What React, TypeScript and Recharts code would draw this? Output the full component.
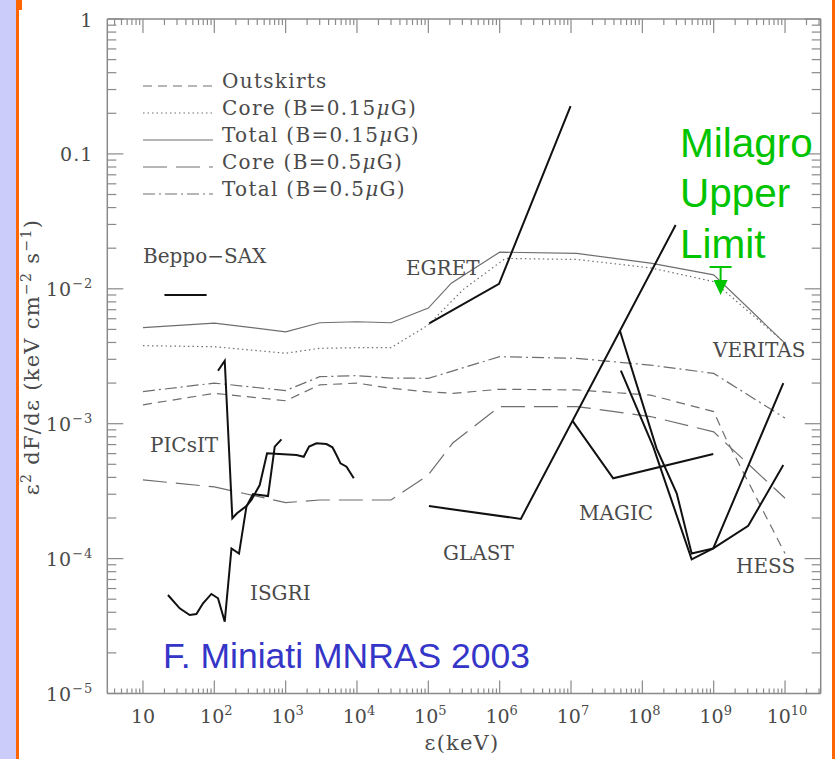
import React from "react";
import { ComposedChart, Line, Scatter, XAxis, YAxis } from "recharts";

type Pt = { x: number; y: number };

// model curves
const outskirts: Pt[] = [
	{ x: 10, y: 1.38e-3 }, { x: 100, y: 1.68e-3 }, { x: 1e3, y: 1.48e-3 },
	{ x: 3e3, y: 1.94e-3 }, { x: 1e4, y: 2.0e-3 }, { x: 3e4, y: 1.83e-3 },
	{ x: 1e5, y: 1.72e-3 }, { x: 2.2e5, y: 1.68e-3 }, { x: 1e6, y: 1.8e-3 },
	{ x: 1.2e7, y: 1.78e-3 }, { x: 1.3e8, y: 1.63e-3 }, { x: 1e9, y: 1.23e-3 },
	{ x: 1.46e9, y: 7.9e-4 }, { x: 1e10, y: 1.09e-4 },
];
const coreLowB: Pt[] = [
	{ x: 10, y: 3.79e-3 }, { x: 100, y: 3.72e-3 }, { x: 1e3, y: 3.33e-3 },
	{ x: 3e3, y: 3.62e-3 }, { x: 1e4, y: 3.66e-3 }, { x: 3e4, y: 3.66e-3 },
	{ x: 1e5, y: 5.39e-3 }, { x: 3.1e5, y: 9.9e-3 }, { x: 1.2e6, y: 1.68e-2 },
	{ x: 1.2e7, y: 1.65e-2 }, { x: 1.3e8, y: 1.43e-2 }, { x: 1e9, y: 1.13e-2 },
	{ x: 1e10, y: 3.97e-3 },
];
const totalLowB: Pt[] = [
	{ x: 10, y: 5.15e-3 }, { x: 100, y: 5.57e-3 }, { x: 1e3, y: 4.8e-3 },
	{ x: 3e3, y: 5.6e-3 }, { x: 1e4, y: 5.7e-3 }, { x: 3e4, y: 5.6e-3 },
	{ x: 1e5, y: 7.2e-3 }, { x: 2.1e5, y: 1.1e-2 }, { x: 1e6, y: 1.87e-2 },
	{ x: 1.2e7, y: 1.83e-2 }, { x: 1.3e8, y: 1.55e-2 }, { x: 1e9, y: 1.27e-2 },
	{ x: 1e10, y: 3.94e-3 },
];
const coreHighB: Pt[] = [
	{ x: 10, y: 3.83e-4 }, { x: 100, y: 3.4e-4 }, { x: 1e3, y: 2.6e-4 },
	{ x: 3e3, y: 2.72e-4 }, { x: 1e4, y: 2.72e-4 }, { x: 3e4, y: 2.72e-4 },
	{ x: 1e5, y: 4.17e-4 }, { x: 2.2e5, y: 7.19e-4 }, { x: 1e6, y: 1.34e-3 },
	{ x: 1.2e7, y: 1.34e-3 }, { x: 1.3e8, y: 1.13e-3 }, { x: 1e9, y: 8.7e-4 },
	{ x: 1e10, y: 2.8e-4 },
];
const totalHighB: Pt[] = [
	{ x: 10, y: 1.73e-3 }, { x: 100, y: 2.0e-3 }, { x: 1e3, y: 1.76e-3 },
	{ x: 3e3, y: 2.23e-3 }, { x: 1e4, y: 2.27e-3 }, { x: 3e4, y: 2.18e-3 },
	{ x: 1e5, y: 2.17e-3 }, { x: 1e6, y: 3.14e-3 }, { x: 1.2e7, y: 3.05e-3 },
	{ x: 1.3e8, y: 2.72e-3 }, { x: 1e9, y: 2.36e-3 }, { x: 1e10, y: 1.1e-3 },
];

// instrument sensitivities
const beppoSax: Pt[] = [{ x: 20, y: 9.0e-3 }, { x: 78, y: 9.0e-3 }];
const isgri: Pt[] = [
	{ x: 22.4, y: 5.37e-5 }, { x: 32.7, y: 4.28e-5 }, { x: 45.2, y: 3.82e-5 },
	{ x: 56.1, y: 3.88e-5 }, { x: 69.5, y: 4.66e-5 }, { x: 91, y: 5.47e-5 },
	{ x: 112.7, y: 5.08e-5 }, { x: 140, y: 3.41e-5 }, { x: 174, y: 1.19e-4 },
	{ x: 222, y: 1.09e-4 }, { x: 282, y: 2.43e-4 }, { x: 349, y: 3.01e-4 },
	{ x: 566, y: 2.91e-4 }, { x: 703, y: 6.76e-4 }, { x: 873, y: 7.66e-4 },
];
const picsit: Pt[] = [
	{ x: 112.7, y: 2.47e-3 }, { x: 140, y: 2.93e-3 }, { x: 179, y: 1.99e-4 },
	{ x: 208, y: 2.17e-4 }, { x: 282, y: 2.45e-4 }, { x: 331, y: 2.72e-4 },
	{ x: 433, y: 3.51e-4 }, { x: 549, y: 6.04e-4 }, { x: 1416, y: 5.86e-4 },
	{ x: 1794, y: 5.69e-4 }, { x: 2130, y: 6.76e-4 }, { x: 2704, y: 7.16e-4 },
	{ x: 3733, y: 7.07e-4 }, { x: 4530, y: 6.68e-4 }, { x: 5155, y: 5.86e-4 },
	{ x: 5870, y: 5.08e-4 }, { x: 7130, y: 4.8e-4 }, { x: 9020, y: 3.94e-4 },
];
const egret: Pt[] = [{ x: 1.03e5, y: 5.55e-3 }, { x: 9.8e5, y: 1.09e-2 }, { x: 9.86e6, y: 0.226 }];
const glast: Pt[] = [{ x: 1.02e5, y: 2.45e-4 }, { x: 1.98e6, y: 1.97e-4 }, { x: 2.93e8, y: 2.97e-2 }];
const magic: Pt[] = [{ x: 1.05e7, y: 1.05e-3 }, { x: 3.9e7, y: 3.94e-4 }, { x: 9.86e8, y: 5.96e-4 }];
const veritas: Pt[] = [
	{ x: 4.85e7, y: 4.89e-3 }, { x: 1.58e8, y: 6.57e-4 }, { x: 3.03e8, y: 3.05e-4 },
	{ x: 4.91e8, y: 1.09e-4 }, { x: 9.86e8, y: 1.19e-4 }, { x: 9.46e9, y: 2.0e-3 },
];
const hess: Pt[] = [
	{ x: 5.0e7, y: 2.47e-3 }, { x: 1.42e8, y: 6.76e-4 }, { x: 4.91e8, y: 9.88e-5 },
	{ x: 9.86e8, y: 1.19e-4 }, { x: 3.05e9, y: 1.75e-4 }, { x: 9.46e9, y: 4.94e-4 },
];
const milagro: Pt[] = [{ x: 1.25e9, y: 9.0e-3 }];

// axes
const xDecades = [0, 1, 2, 3, 4, 5, 6, 7, 8, 9, 10];
const yDecades = [-5, -4, -3, -2, -1, 0];
const X_DOMAIN: [number, number] = [Math.pow(10, 0.5), Math.pow(10, 10.5)];
const Y_DOMAIN: [number, number] = [1e-5, 1];

const AXIS = "#8a8a8a";
const TXT = "#4a4a4a";
const MODEL = "#6e6e6e";
const INSTR = "#111";
const GREEN = "#00c400";
const SERIF = "'DejaVu Serif', serif";
const SANS = "'Liberation Sans', Arial, sans-serif";

const models = [
	{ name: "Outskirts", data: outskirts, dash: "9 6" },
	{ name: "Core (B=0.15", data: coreLowB, dash: "1.5 3" },
	{ name: "Total (B=0.15", data: totalLowB, dash: undefined },
	{ name: "Core (B=0.5", data: coreHighB, dash: "24 9" },
	{ name: "Total (B=0.5", data: totalHighB, dash: "12 4 2 4" },
];
const instruments = [beppoSax, isgri, picsit, egret, glast, magic, veritas, hess];

const labels = [
	{ t: "Beppo\u2212SAX", x: 143, y: 263 },
	{ t: "EGRET", x: 406, y: 275 },
	{ t: "PICsIT", x: 150, y: 452 },
	{ t: "ISGRI", x: 250, y: 600 },
	{ t: "GLAST", x: 443, y: 560 },
	{ t: "MAGIC", x: 579, y: 520 },
	{ t: "VERITAS", x: 713, y: 357 },
	{ t: "HESS", x: 736, y: 573 },
];

function logTicks(decades: number[], [lo, hi]: [number, number]) {
	const t: number[] = [];
	for (const d of decades)
		for (let m = 1; m < 10; m++) {
			const v = m * Math.pow(10, d);
			if (v >= lo * 0.999 && v <= hi * 1.001) t.push(v);
		}
	return t;
}
const xTicks = logTicks(xDecades, X_DOMAIN);
const yTicks = logTicks(yDecades, Y_DOMAIN);

const decade = (v: number) => {
	const l = Math.log10(v);
	const e = Math.round(l);
	return { e, major: Math.abs(l - e) < 1e-6 };
};

const Pow = ({ e, sup }: { e: number; sup: number }) => (
	<>
		10
		<tspan dy={-8} fontSize={sup}>{e < 0 ? "\u2212" + -e : e}</tspan>
	</>
);

const BottomTick = (p: any) => {
	const { e, major } = decade(p.payload.value);
	return (
		<g>
			<line x1={p.x} x2={p.x} y1={p.y} y2={p.y - (major ? 13 : 5)} stroke={AXIS} strokeWidth={1.2} />
			{major && e >= 1 && (
				<text x={p.x + (e > 1 ? 2 : 0)} y={p.y + 29} textAnchor="middle" fontFamily={SERIF} fontSize={19} fill={TXT}>
					{e === 1 ? "10" : <Pow e={e} sup={13} />}
				</text>
			)}
		</g>
	);
};
const TopTick = (p: any) => {
	const { major } = decade(p.payload.value);
	return <line x1={p.x} x2={p.x} y1={p.y} y2={p.y + (major ? 14 : 6)} stroke={AXIS} strokeWidth={1.2} />;
};
const LeftTick = (p: any) => {
	const { e, major } = decade(p.payload.value);
	return (
		<g>
			<line x1={p.x} x2={p.x + (major ? 16 : 9)} y1={p.y} y2={p.y} stroke={AXIS} strokeWidth={1.2} />
			{major && (
				<text x={p.x - 14} y={p.y + 7.5} textAnchor="end" fontFamily={SERIF} fontSize={19} fill={TXT} letterSpacing={1}>
					{e === 0 ? "1" : e === -1 ? "0.1" : <Pow e={e} sup={13} />}
				</text>
			)}
		</g>
	);
};
const RightTick = (p: any) => {
	const { major } = decade(p.payload.value);
	return <line x1={p.x} x2={p.x - (major ? 16 : 9)} y1={p.y} y2={p.y} stroke={AXIS} strokeWidth={1.2} />;
};

const UpperLimit = (p: any) => {
	const { cx, cy } = p;
	return (
		<g>
			<line x1={cx - 11} x2={cx + 11} y1={cy - 28} y2={cy - 28} stroke={GREEN} strokeWidth={2} />
			<line x1={cx} x2={cx} y1={cy - 28} y2={cy - 14} stroke={GREEN} strokeWidth={2} />
			<polygon points={`${cx - 7},${cy - 15} ${cx + 7},${cy - 15} ${cx},${cy}`} fill={GREEN} />
		</g>
	);
};

export default function App() {
	return (
		<div style={{ position: "absolute", left: 0, top: 0, width: 835, height: 759, background: "#fff", overflow: "hidden" }}>
			<div style={{ position: "absolute", left: 0, top: 0, width: 16, height: 759, background: "#ccccfa" }} />
			<div style={{ position: "absolute", left: 16, top: 0, width: 3, height: 759, background: "#ff6600" }} />
			<div style={{ position: "absolute", left: 16, top: 0, width: 6, height: 10, background: "#ff6600" }} />
			<div style={{ position: "absolute", left: 832, top: 0, width: 3, height: 759, background: "#ff6600" }} />

			<div style={{ position: "absolute", left: 0, top: 0 }}>
				<ComposedChart width={835} height={759} margin={{ top: 18, left: 77.3, right: 13.3, bottom: 35.5 }}>
					<XAxis
						xAxisId="b" type="number" dataKey="x" scale="log" domain={X_DOMAIN} allowDataOverflow
						ticks={xTicks} interval={0} height={30} tickSize={0} tickMargin={0}
						axisLine={{ stroke: AXIS, strokeWidth: 1.5 }} tickLine={false} tick={BottomTick}
					/>
					<XAxis
						xAxisId="t" orientation="top" type="number" dataKey="x" scale="log" domain={X_DOMAIN} allowDataOverflow
						ticks={xTicks} interval={0} height={1} tickSize={0} tickMargin={0}
						axisLine={{ stroke: AXIS, strokeWidth: 1.5 }} tickLine={false} tick={TopTick}
					/>
					<YAxis
						yAxisId="l" type="number" scale="log" domain={Y_DOMAIN} allowDataOverflow
						ticks={yTicks} interval={0} width={30} tickSize={0} tickMargin={0}
						axisLine={{ stroke: AXIS, strokeWidth: 1.5 }} tickLine={false} tick={LeftTick}
					/>
					<YAxis
						yAxisId="r" orientation="right" type="number" scale="log" domain={Y_DOMAIN} allowDataOverflow
						ticks={yTicks} interval={0} width={1} tickSize={0} tickMargin={0}
						axisLine={{ stroke: AXIS, strokeWidth: 1.5 }} tickLine={false} tick={RightTick}
					/>
					{models.map((m) => (
						<Line
							key={m.name} xAxisId="b" yAxisId="l" data={m.data} dataKey="y" type="linear"
							stroke={MODEL} strokeWidth={1.2} strokeDasharray={m.dash} dot={false}
							isAnimationActive={false}
						/>
					))}
					{instruments.map((d, i) => (
						<Line
							key={"i" + i} xAxisId="b" yAxisId="l" data={d} dataKey="y" type="linear"
							stroke={INSTR} strokeWidth={2} dot={false} isAnimationActive={false}
						/>
					))}
					<Scatter xAxisId="b" yAxisId="l" data={milagro} dataKey="y" shape={UpperLimit} isAnimationActive={false} />
				</ComposedChart>
			</div>

			<svg width={835} height={759} style={{ position: "absolute", left: 0, top: 0, pointerEvents: "none" }}>
				{models.map((m, i) => (
					<g key={m.name}>
						<line x1={143} x2={213} y1={86 + i * 27} y2={86 + i * 27} stroke={MODEL} strokeWidth={1.2} strokeDasharray={m.dash} />
						<text x={222} y={87.5 + i * 27} fontFamily={SERIF} fontSize={20} fill={TXT} letterSpacing={1.3}>
							{i === 0 ? m.name : (
								<>
									{m.name}
									<tspan fontStyle="italic">{"\u03bc"}</tspan>G)
								</>
							)}
						</text>
					</g>
				))}
				{labels.map((l) => (
					<text key={l.t} x={l.x} y={l.y} fontFamily={SERIF} fontSize={20} fill={TXT}>{l.t}</text>
				))}
				<text x={462} y={750} textAnchor="middle" fontFamily={SERIF} fontSize={21} fill={TXT} letterSpacing={1.2}>
					{"\u03b5(keV)"}
				</text>
				<g transform="translate(39 357) rotate(-90)">
					<text x={0} y={0} textAnchor="middle" fontFamily={SERIF} fontSize={21} fill={TXT} letterSpacing={1.3}>
						{"\u03b5"}
						<tspan dy={-8} fontSize={14}>2</tspan>
						<tspan dy={8}>{" dF/d\u03b5 (keV cm"}</tspan>
						<tspan dy={-8} fontSize={14}>{"\u22122"}</tspan>
						<tspan dy={8}>{" s"}</tspan>
						<tspan dy={-8} fontSize={14}>{"\u22121"}</tspan>
						<tspan dy={8}>)</tspan>
					</text>
				</g>
				<text x={163} y={668} fontFamily={SANS} fontSize={35.5} fill="#3535c8">F. Miniati MNRAS 2003</text>
				<text x={680} y={157} fontFamily={SANS} fontSize={40.5} fill={GREEN}>Milagro</text>
				<text x={680} y={207} fontFamily={SANS} fontSize={40.5} fill={GREEN}>Upper</text>
				<text x={680} y={258} fontFamily={SANS} fontSize={40.5} fill={GREEN}>Limit</text>
			</svg>
		</div>
	);
}
